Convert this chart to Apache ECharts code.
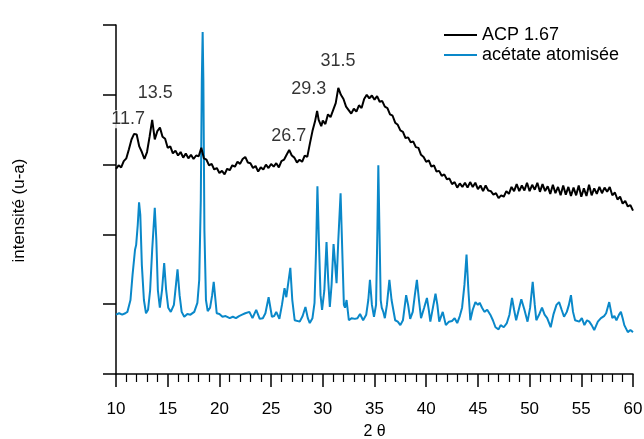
<!DOCTYPE html>
<html>
<head>
<meta charset="utf-8">
<script src="https://cdn.jsdelivr.net/npm/echarts@6/dist/echarts.min.js"></script>
<style>html,body{margin:0;padding:0;background:#fff}#c{width:644px;height:439px}</style>
</head>
<body>
<div id="c"></div>
<script>
// ACP 1.67 (black) : 2theta / intensity
const acpX = [10.00,10.25,10.50,10.75,11.00,11.25,11.50,11.75,12.00,12.25,12.50,12.75,13.00,13.25,13.50,13.75,14.00,14.25,14.50,14.75,15.00,15.25,15.50,15.75,16.00,16.25,16.50,16.75,17.00,17.25,17.50,17.75,18.00,18.25,18.50,18.75,19.00,19.25,19.50,19.75,20.00,20.25,20.50,20.75,21.00,21.25,21.50,21.75,22.00,22.25,22.50,22.75,23.00,23.25,23.50,23.75,24.00,24.25,24.50,24.75,25.00,25.25,25.50,25.75,26.00,26.25,26.50,26.75,27.00,27.25,27.50,27.75,28.00,28.25,28.50,28.75,29.00,29.25,29.45,29.60,29.85,30.00,30.25,30.50,30.75,31.00,31.25,31.50,31.75,32.00,32.25,32.50,32.75,33.00,33.25,33.50,33.75,34.00,34.25,34.50,34.75,35.00,35.25,35.50,35.75,36.00,36.25,36.50,36.75,37.00,37.25,37.50,37.75,38.00,38.25,38.50,38.75,39.00,39.25,39.50,39.75,40.00,40.25,40.50,40.75,41.00,41.25,41.50,41.75,42.00,42.25,42.50,42.75,43.00,43.25,43.50,43.75,44.00,44.25,44.50,44.75,45.00,45.25,45.50,45.75,46.00,46.25,46.50,46.75,47.00,47.25,47.50,47.75,48.00,48.25,48.50,48.75,49.00,49.25,49.50,49.75,50.00,50.25,50.50,50.75,51.00,51.25,51.50,51.75,52.00,52.25,52.50,52.75,53.00,53.25,53.50,53.75,54.00,54.25,54.50,54.75,55.00,55.25,55.50,55.75,56.00,56.25,56.50,56.75,57.00,57.25,57.50,57.75,58.00,58.25,58.50,58.75,59.00,59.25,59.50,59.75,60.00];
const acpY = [294,299,296,305,309,322,336,344,343,326,318,308,318,340,364,336,348,353,340,337,324,326,316,320,313,318,310,316,309,314,308,313,312,324,309,307,299,301,293,295,288,291,286,294,292,299,297,304,301,308,311,303,302,295,298,290,296,293,300,295,301,297,302,296,305,307,314,321,313,310,303,307,304,313,311,330,348,362,377,364,355,363,358,372,368,378,388,410,400,394,383,378,373,380,376,385,381,394,400,395,399,393,398,390,391,383,381,372,370,360,357,349,347,338,339,332,333,325,324,314,311,304,306,297,299,290,291,284,286,279,280,272,275,267,273,268,274,267,275,268,274,265,270,262,270,263,262,257,259,252,256,254,262,258,268,262,272,262,270,263,274,262,271,264,274,261,272,262,269,258,271,259,268,256,270,257,268,255,267,256,270,254,266,255,271,256,266,258,268,259,267,261,268,256,260,250,254,244,248,240,242,234];

// acétate atomisée (blue)
const aceX = [10.0,10.3,10.6,10.9,11.1,11.4,11.6,11.84,11.95,12.1,12.23,12.35,12.5,12.7,12.9,13.1,13.3,13.5,13.75,13.9,14.05,14.24,14.45,14.66,14.85,15.05,15.3,15.6,15.8,15.95,16.15,16.35,16.6,16.9,17.2,17.57,17.87,18.05,18.2,18.3,18.38,18.45,18.55,18.7,18.87,19.1,19.3,19.45,19.6,19.74,20.0,20.3,20.6,21.0,21.3,21.6,21.9,22.2,22.5,22.9,23.2,23.56,23.9,24.2,24.45,24.76,25.08,25.3,25.5,25.8,26.05,26.3,26.47,26.86,27.05,27.28,27.77,28.05,28.32,28.55,28.74,29.0,29.2,29.35,29.48,29.62,29.78,29.93,30.15,30.36,30.52,30.68,30.85,31.04,31.2,31.33,31.5,31.72,31.88,32.04,32.15,32.3,32.52,32.8,33.1,33.35,33.6,33.9,34.2,34.4,34.56,34.75,34.95,35.15,35.28,35.37,35.48,35.6,35.7,35.85,36.0,36.2,36.44,36.65,37.0,37.25,37.5,37.75,38.06,38.25,38.45,38.7,38.9,39.1,39.3,39.5,39.8,40.07,40.25,40.4,40.65,40.9,41.08,41.26,41.6,41.9,42.2,42.5,42.75,43.0,43.25,43.47,43.7,43.9,44.08,44.27,44.5,44.76,45.0,45.17,45.4,45.63,45.9,46.2,46.45,46.7,47.0,47.2,47.5,47.8,48.05,48.3,48.5,48.7,48.95,49.2,49.5,49.8,50.05,50.3,50.5,50.65,50.95,51.2,51.45,51.7,52.04,52.3,52.6,52.85,53.1,53.33,53.6,53.8,54.0,54.2,54.4,54.8,55.05,55.3,55.55,55.77,56.0,56.25,56.6,56.9,57.2,57.4,57.7,58.0,58.2,58.4,58.65,58.83,59.0,59.16,59.5,59.75,60.0];
const aceY = [85,87,85,87,89,106,142,178,185,213,246,228,156,106,87,92,120,178,238,192,120,95,120,159,120,95,89,99,128,150,113,89,82,86,85,89,102,135,249,421,490,421,206,106,90,95,113,132,109,87,86,82,83,80,82,80,83,85,87,89,80,92,79,80,87,110,82,83,89,79,99,123,110,152,106,77,75,83,96,80,73,80,102,178,269,192,113,92,120,189,135,96,128,186,156,130,192,259,178,99,95,106,77,80,79,80,86,77,85,106,135,99,82,99,206,299,206,106,95,89,80,99,135,106,77,75,70,77,113,99,79,89,113,135,106,80,95,109,92,75,95,115,99,75,89,70,75,76,80,73,83,95,128,171,120,77,92,103,99,102,95,89,92,85,77,67,64,70,67,73,85,109,92,77,92,107,92,75,95,132,99,77,86,95,85,80,67,85,99,103,92,82,89,99,113,89,77,75,80,70,77,75,70,63,75,80,83,87,103,80,83,77,85,89,80,70,60,63,60];

// peak annotations
const peakText = ['11.7','13.5','18.2','26.7','29.3','31.5'];
const peakLabelX = [11.17,13.79,18.45,26.7,28.64,31.46];
const peakLabelY = [365,403,507,341,408,448];

const xTicks = {min:10, max:60, interval:5};
const yTicks = {min:0, max:500, interval:100};

const FONT = '"Liberation Sans", Arial, sans-serif';
const chart = echarts.init(document.getElementById('c'), null, {renderer:'canvas'});
const zip = (xs, ys) => xs.map((x,i)=>[x, ys[i]]);

chart.setOption({
  animation:false,
  backgroundColor:'#fff',
  textStyle:{fontFamily:FONT},
  grid:{left:116, right:11, top:25, bottom:65, containLabel:false, outerBoundsMode:'none'},
  legend:{
    orient:'vertical', left:439, top:21, itemGap:2,
    icon:'rect', itemWidth:33, itemHeight:2,
    textStyle:{fontSize:18, color:'#000', fontFamily:FONT},
    data:['ACP 1.67','acétate atomisée']
  },
  xAxis:{
    type:'value', min:xTicks.min, max:xTicks.max, interval:xTicks.interval,
    name:'2 θ', nameLocation:'middle', nameGap:50,
    nameTextStyle:{fontSize:16, color:'#000', fontFamily:FONT},
    axisLine:{lineStyle:{color:'#000', width:1.5}},
    axisTick:{inside:false, length:13, lineStyle:{color:'#000', width:1.5}},
    minorTick:{show:true, splitNumber:5, length:8, lineStyle:{color:'#000', width:1.2}},
    axisLabel:{fontSize:17, color:'#000', margin:27, fontFamily:FONT},
    splitLine:{show:false}
  },
  yAxis:{
    type:'value', min:yTicks.min, max:yTicks.max, interval:yTicks.interval,
    name:'intensité (u-a)', nameLocation:'middle', nameGap:88, nameRotate:90,
    nameTextStyle:{fontSize:17, color:'#000', fontFamily:FONT, padding:[0,22,0,0]},
    axisLine:{show:true, lineStyle:{color:'#000', width:1.5}},
    axisTick:{show:true, inside:false, length:13, lineStyle:{color:'#000', width:1.5}},
    axisLabel:{show:false},
    splitLine:{show:false}
  },
  series:[
    {name:'ACP 1.67', type:'line', data:zip(acpX, acpY), showSymbol:false, symbol:'none',
     lineStyle:{color:'#000', width:2}, itemStyle:{color:'#000'}, z:3},
    {name:'acétate atomisée', type:'line', data:zip(aceX, aceY), showSymbol:false, symbol:'none',
     lineStyle:{color:'#0a88c9', width:2}, itemStyle:{color:'#0a88c9'}, z:2},
    {name:'peaks', type:'scatter', symbolSize:0, silent:true, z:5,
     data:peakText.map((t,i)=>({value:[peakLabelX[i], peakLabelY[i]], name:t})),
     label:{show:true, position:'inside', formatter:p=>p.name, fontSize:18, color:'#000',
            fontFamily:FONT, backgroundColor:'#fff', padding:[0,1]}}
  ]
});
</script>
</body>
</html>
